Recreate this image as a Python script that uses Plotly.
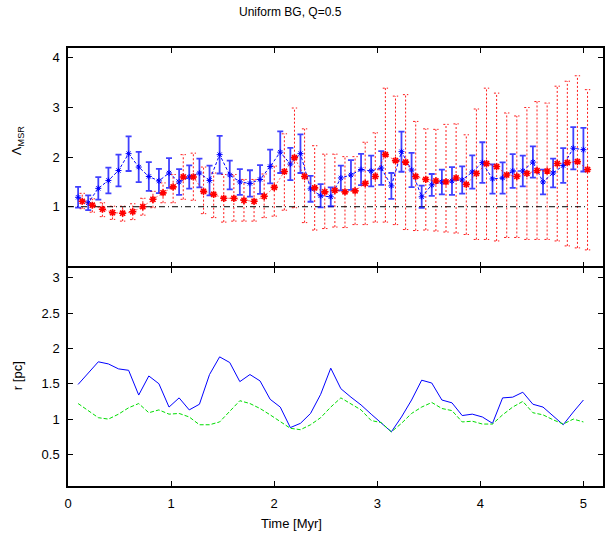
import plotly.graph_objects as go

# ---------------- data ----------------
time_blue = [0.098, 0.196, 0.294, 0.392, 0.490, 0.588, 0.686, 0.784, 0.882, 0.980,
             1.078, 1.176, 1.275, 1.373, 1.471, 1.569, 1.667, 1.765, 1.863, 1.961,
             2.059, 2.157, 2.255, 2.353, 2.451, 2.549, 2.647, 2.745, 2.843, 2.941,
             3.039, 3.137, 3.235, 3.333, 3.431, 3.529, 3.627, 3.725, 3.824, 3.922,
             4.020, 4.118, 4.216, 4.314, 4.412, 4.510, 4.608, 4.706, 4.804, 4.902, 5.000]

time_red = [0.138, 0.236, 0.334, 0.432, 0.530, 0.628, 0.726, 0.824, 0.922, 1.020,
            1.118, 1.216, 1.315, 1.413, 1.511, 1.609, 1.707, 1.805, 1.903, 2.001,
            2.099, 2.197, 2.295, 2.393, 2.491, 2.589, 2.687, 2.785, 2.883, 2.981,
            3.079, 3.177, 3.275, 3.373, 3.471, 3.569, 3.667, 3.765, 3.864, 3.962,
            4.060, 4.158, 4.256, 4.354, 4.452, 4.550, 4.648, 4.746, 4.844, 4.942, 5.040]

lambda_blue = [1.19, 1.08, 1.37, 1.53, 1.73, 2.07, 1.80, 1.61, 1.52, 1.68,
               1.50, 1.60, 1.68, 1.53, 2.05, 1.64, 1.50, 1.47, 1.55, 1.81,
               2.10, 1.86, 2.07, 1.36, 1.22, 1.20, 1.58, 1.64, 1.75, 1.72,
               1.78, 1.42, 2.11, 1.74, 1.20, 1.44, 1.50, 1.52, 1.54, 1.70,
               1.89, 1.56, 1.58, 1.72, 1.72, 1.90, 1.50, 1.68, 1.83, 2.18, 2.15]

lambda_blue_err = [0.21, 0.15, 0.225, 0.26, 0.32, 0.35, 0.305, 0.29, 0.245, 0.30,
                   0.26, 0.235, 0.29, 0.30, 0.38, 0.29, 0.26, 0.265, 0.29, 0.34,
                   0.42, 0.325, 0.39, 0.26, 0.235, 0.19, 0.25, 0.30, 0.315, 0.31,
                   0.34, 0.26, 0.405, 0.345, 0.225, 0.22, 0.25, 0.28, 0.275, 0.335,
                   0.41, 0.295, 0.315, 0.34, 0.31, 0.315, 0.25, 0.29, 0.35, 0.425, 0.44]

lambda_red = [1.11, 1.03, 0.95, 0.88, 0.87, 0.90, 1.00, 1.15, 1.28, 1.40,
              1.60, 1.60, 1.31, 1.25, 1.17, 1.17, 1.13, 1.11, 1.21, 1.39,
              1.71, 1.99, 1.61, 1.38, 1.30, 1.33, 1.30, 1.32, 1.47, 1.61,
              2.05, 1.93, 1.90, 1.61, 1.55, 1.52, 1.50, 1.58, 1.45, 1.67,
              1.87, 1.81, 1.64, 1.61, 1.67, 1.73, 1.72, 1.87, 1.89, 1.91, 1.75]

lambda_red_hi = [1.27, 1.16, 1.08, 1.01, 1.01, 1.06, 1.17, 1.31, 1.48, 1.65,
                 2.05, 2.08, 1.80, 1.68, 1.65, 1.65, 1.55, 1.55, 1.66, 1.82,
                 2.47, 2.99, 2.57, 2.23, 2.06, 2.06, 2.01, 2.01, 2.30, 2.49,
                 3.39, 3.23, 3.26, 2.72, 2.57, 2.56, 2.66, 2.67, 2.45, 2.97,
                 3.39, 3.29, 2.89, 2.83, 3.00, 3.12, 3.09, 3.43, 3.53, 3.64, 3.36]

lambda_red_lo = [0.96, 0.89, 0.80, 0.745, 0.71, 0.74, 0.83, 0.98, 1.08, 1.08,
                 1.15, 1.13, 0.86, 0.78, 0.69, 0.71, 0.71, 0.71, 0.78, 0.81,
                 0.93, 0.98, 0.68, 0.53, 0.56, 0.59, 0.58, 0.64, 0.64, 0.69,
                 0.69, 0.64, 0.54, 0.52, 0.53, 0.51, 0.49, 0.47, 0.44, 0.34,
                 0.34, 0.31, 0.38, 0.38, 0.34, 0.34, 0.34, 0.31, 0.21, 0.17, 0.13]

r_blue = [1.49, 1.65, 1.81, 1.78, 1.71, 1.69, 1.34, 1.61, 1.50, 1.17,
          1.30, 1.13, 1.21, 1.63, 1.88, 1.80, 1.53, 1.63, 1.54, 1.28,
          1.17, 0.88, 0.94, 1.08, 1.35, 1.72, 1.43, 1.31, 1.20, 1.07,
          0.94, 0.82, 1.03, 1.27, 1.55, 1.51, 1.27, 1.23, 1.05, 1.07,
          1.03, 0.94, 1.30, 1.31, 1.38, 1.21, 1.17, 1.04, 0.92, 1.10, 1.27]

r_green = [1.22, 1.12, 1.02, 1.00, 1.07, 1.16, 1.22, 1.09, 1.13, 1.07,
           1.08, 1.03, 0.92, 0.92, 0.96, 1.11, 1.26, 1.22, 1.15, 1.06,
           0.96, 0.87, 0.85, 0.92, 1.02, 1.17, 1.30, 1.22, 1.13, 0.98,
           0.95, 0.82, 0.94, 1.08, 1.17, 1.235, 1.15, 1.12, 0.96, 0.97,
           0.93, 0.93, 1.06, 1.17, 1.25, 1.09, 1.06, 0.99, 0.93, 1.00, 0.96]

ref_level = [1.0, 1.0]
ref_time = [0.0, time_red[-1]]

title_text = "Uniform BG, Q=0.5"
xlabel = "Time [Myr]"
ylabel_top = "Λ<sub>MSR</sub>"
ylabel_bot = "r [pc]"
xticks = [0, 1, 2, 3, 4, 5]
yticks_top = [1, 2, 3, 4]
yticks_bot = [0.5, 1, 1.5, 2, 2.5, 3]

# ---------------- figure ----------------
W, H = 605, 536
ML, MR, MT, MB = 67.6, 0, 48, 50
FONT = "Liberation Sans, Arial, sans-serif"
LW = 1.5

fig = go.Figure()

# red dotted error bars (with caps) built from the data arrays
cap = 0.026
ex, ey = [], []
for t, lo, hi in zip(time_red, lambda_red_lo, lambda_red_hi):
    ex += [t, t, None, t - cap, t + cap, None, t - cap, t + cap, None]
    ey += [lo, hi, None, hi, hi, None, lo, lo, None]
fig.add_trace(go.Scatter(x=ex, y=ey, mode="lines", xaxis="x2", yaxis="y2",
                         line=dict(color="rgba(255,0,0,0.9)", width=1, dash="2px,2px"),
                         hoverinfo="skip", showlegend=False))

# reference line at 1
fig.add_trace(go.Scatter(x=ref_time, y=ref_level, mode="lines", xaxis="x2", yaxis="y2",
                         line=dict(color="black", width=1, dash="6px,3px,1px,3px"),
                         showlegend=False))

# blue with error bars
fig.add_trace(go.Scatter(x=time_blue, y=lambda_blue, mode="lines+markers",
                         xaxis="x2", yaxis="y2",
                         line=dict(color="rgb(0,0,255)", width=1, dash="3px,2px"),
                         marker=dict(symbol="asterisk-open", size=5,
                                     line=dict(color="rgb(0,0,255)", width=1)),
                         error_y=dict(type="data", array=lambda_blue_err, visible=True,
                                      color="rgba(0,0,255,0.75)", thickness=1.8, width=3),
                         showlegend=False))

# red points
fig.add_trace(go.Scatter(x=time_red, y=lambda_red, mode="lines+markers",
                         xaxis="x2", yaxis="y2",
                         line=dict(color="rgba(255,0,0,0.6)", width=1, dash="2px,2px"),
                         marker=dict(symbol="asterisk-open", size=6, color="red",
                                     line=dict(color="red", width=1.6)),
                         showlegend=False))

# bottom panel
fig.add_trace(go.Scatter(x=time_blue, y=r_blue, mode="lines", xaxis="x", yaxis="y",
                         line=dict(color="rgb(0,0,255)", width=1), showlegend=False))
fig.add_trace(go.Scatter(x=time_blue, y=r_green, mode="lines", xaxis="x", yaxis="y",
                         line=dict(color="rgb(0,220,0)", width=1, dash="4px,2px"),
                         showlegend=False))

axis_common = dict(showline=True, linecolor="black", linewidth=LW, mirror="ticks",
                   ticks="inside", ticklen=5, tickwidth=1, tickcolor="black",
                   showgrid=False, zeroline=False,
                   tickfont=dict(family=FONT, size=13, color="black"))

PW = W - ML - MR
PH = H - MT - MB
split = 0.5
gap = LW / PH

XR = [0, 5.19]
fig.update_layout(
    width=W, height=H,
    margin=dict(l=ML, r=MR, t=MT, b=MB, pad=0),
    paper_bgcolor="white", plot_bgcolor="white",
    xaxis=dict(range=XR, domain=[0, 1], anchor="y", tickvals=xticks,
               ticklabelstandoff=5, **axis_common),
    yaxis=dict(range=[0.054, 3.14], domain=[0, split - gap / 2], anchor="x",
               tickvals=yticks_bot, ticklabelstandoff=4, **axis_common),
    xaxis2=dict(range=XR, domain=[0, 1], anchor="y2", tickvals=xticks,
                showticklabels=False, matches="x", **axis_common),
    yaxis2=dict(range=[-0.2, 4.2], domain=[split + gap / 2, 1], anchor="x2",
                tickvals=yticks_top, ticklabelstandoff=4, **axis_common),
    showlegend=False,
)


def px(x):
    return (x - ML) / PW


def py(y):
    return (H - MB - y) / PH


ann = [
    dict(text=title_text, x=px(291), y=py(12), font=dict(size=12)),
    dict(text=xlabel, x=px(292), y=py(523), font=dict(size=13)),
    dict(text=ylabel_top, x=px(16.5), y=py(141), textangle=-90, font=dict(size=13)),
    dict(text=ylabel_bot, x=px(16.5), y=py(376), textangle=-90, font=dict(size=13)),
]
for a in ann:
    a.update(xref="paper", yref="paper", showarrow=False,
             xanchor="center", yanchor="middle")
    a["font"].update(family=FONT, color="black")
fig.update_layout(annotations=ann)

fig.write_html("out.html")
